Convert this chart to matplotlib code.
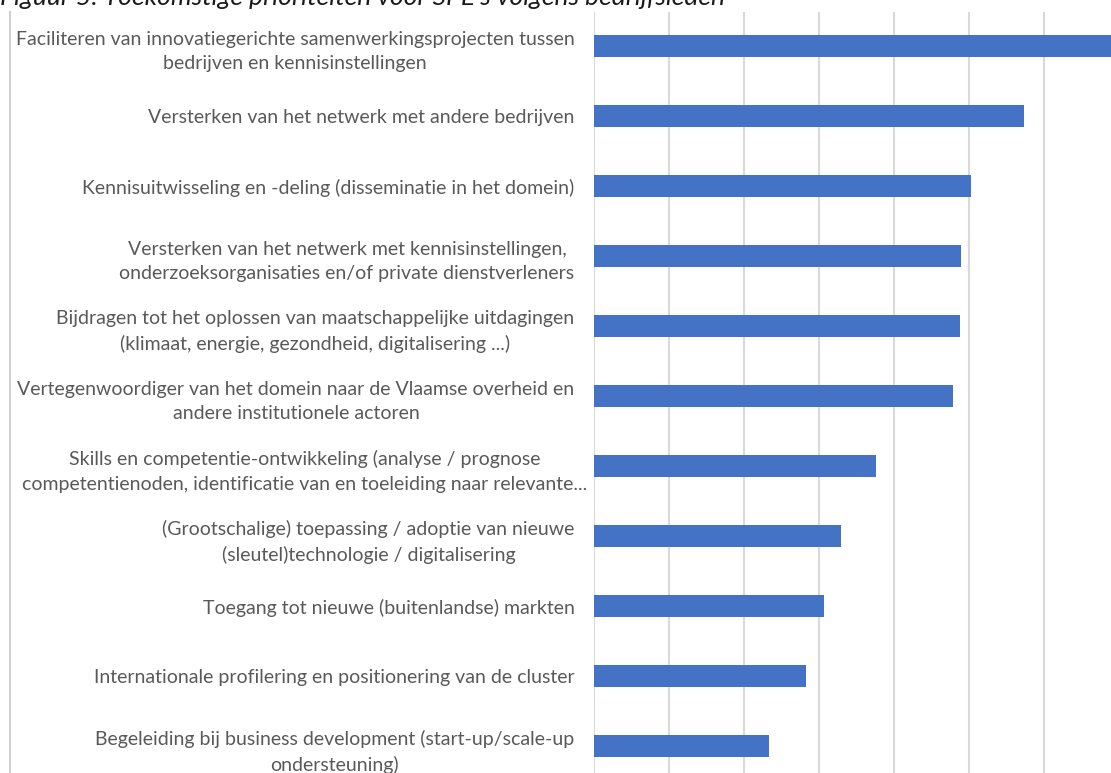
import numpy as np
import matplotlib.pyplot as plt
from matplotlib.lines import Line2D
from matplotlib.transforms import ScaledTranslation

plt.rcParams['font.family'] = ['Lato', 'DejaVu Sans']

labels = [
    "Faciliteren van innovatiegerichte samenwerkingsprojecten tussen\nbedrijven en kennisinstellingen",
    "Versterken van het netwerk met andere bedrijven",
    "Kennisuitwisseling en -deling (disseminatie in het domein)",
    "Versterken van het netwerk met kennisinstellingen,\nonderzoeksorganisaties en/of private dienstverleners",
    "Bijdragen tot het oplossen van maatschappelijke uitdagingen\n(klimaat, energie, gezondheid, digitalisering ...)",
    "Vertegenwoordiger van het domein naar de Vlaamse overheid en\nandere institutionele actoren",
    "Skills en competentie-ontwikkeling (analyse / prognose\ncompetentienoden, identificatie van en toeleiding naar relevante...",
    "(Grootschalige) toepassing / adoptie van nieuwe\n(sleutel)technologie / digitalisering",
    "Toegang tot nieuwe (buitenlandse) markten",
    "Internationale profilering en positionering van de cluster",
    "Begeleiding bij business development (start-up/scale-up\nondersteuning)",
]
waarden = [7.0, 5.73, 5.03, 4.89, 4.88, 4.79, 3.76, 3.29, 3.07, 2.83, 2.33]

W, H = 1111, 773
fig = plt.figure(figsize=(W / 100, H / 100), dpi=100)

# assen in pixels: nulpunt op x=594, 75 px per eenheid, 70 px per rij
x0, stap = 594, 75
xmax = 7
top, onder = 12, 773
ax = fig.add_axes([x0 / W, 1 - onder / H, xmax * stap / W, (onder - top) / H])

y = np.arange(len(labels))
ax.barh(y, waarden, height=0.31, color='#4472C4', zorder=3)
ax.set_xlim(0, xmax)
ax.set_ylim(10 + 27 / 70, -34 / 70)

ax.set_xticks(np.arange(0, xmax + 1))
ax.xaxis.grid(True, color='#d9d9d9', linewidth=1.5, zorder=0)
ax.tick_params(axis='x', length=0, labelbottom=False)
ax.set_yticks(y)
ax.set_yticklabels(labels, color='#595959', fontsize=14, linespacing=1.55,
                   multialignment='center')
ax.tick_params(axis='y', length=0, pad=14)
for s in ax.spines.values():
    s.set_visible(False)

# afgekapt label loopt iets verder naar rechts door
lbl = ax.get_yticklabels()[6]
lbl.set_transform(lbl.get_transform() + ScaledTranslation(0.13, 0, fig.dpi_scale_trans))

# rand links
fig.add_artist(Line2D([10 / W, 10 / W], [0, 1 - top / H], color='#d0d0d0', linewidth=1.5))

# titel, bovenaan afgesneden
fig.text(0, 1 - 5 / H, "Figuur 5: Toekomstige prioriteiten voor SPE's volgens bedrijfsleden",
         fontsize=19, style='italic', color='#1a1a1a', va='baseline', ha='left')

fig.savefig('out.png', dpi=100)
